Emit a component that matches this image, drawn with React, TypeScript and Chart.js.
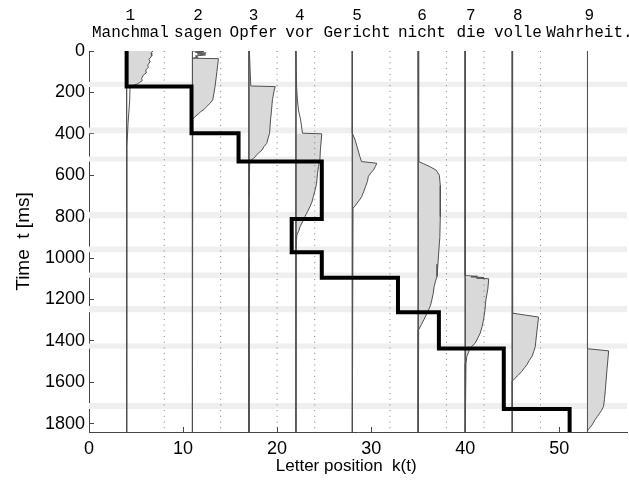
import React, { useEffect, useRef } from 'react';
import { Chart, registerables } from 'chart.js';

Chart.register(...registerables);

const X_MAX = 57.2;
const T_MAX = 1840;

const wordNumbers = ['1', '2', '3', '4', '5', '6', '7', '8', '9'];
const words = ['Manchmal', 'sagen', 'Opfer', 'vor', 'Gericht', 'nicht', 'die', 'volle', 'Wahrheit.'];
const wordLabelPos = [4.4, 11.6, 17.5, 22.4, 28.5, 35.4, 40.6, 45.6, 53.2];

const fixationLines = [4, 11, 17, 22, 28, 35, 40, 45, 53];
const wordEndLines = [8, 14, 20, 24, 32, 38, 42, 48];

const xTicks = [0, 10, 20, 30, 40, 50];
const yTicks = [0, 200, 400, 600, 800, 1000, 1200, 1400, 1600, 1800];

// staircase k(t)
const stepX = [4, 10.9, 15.9, 24.75, 21.55, 24.75, 32.85, 37.2, 44.1, 51.1];
const stepT = [172, 397, 534, 811, 972, 1095, 1262, 1437, 1729];

// light grey horizontal bands (ms)
const bandTop = [148, 370, 510, 778, 944, 1070, 1232, 1412, 1700];
const bandBottom = [174, 397, 534, 808, 972, 1096, 1262, 1438, 1729];

// per-word curves: [t (ms), x (letter position)]
const curve1 = [[0, 6.78], [11, 6.6], [24, 6.67], [40, 6.38], [52, 6.49], [68, 6.24], [79, 6.31], [92, 6.03], [105, 6.1], [116, 5.78], [132, 5.6], [143, 5.67], [153, 5.35], [159, 5.14], [172, 4.36], [236, 4.33], [350, 4.15], [470, 4.02], [1840, 4.0]];
const curve2 = [[0, 11.0], [3, 12.2], [6, 11.3], [10, 12.45], [14, 11.5], [19, 12.4], [24, 11.3], [30, 11.6], [35, 11.05], [37, 13.76], [100, 13.6], [172, 13.4], [236, 13.16], [252, 12.87], [269, 12.5], [281, 12.25], [293, 11.88], [305, 11.6], [317, 11.28], [330, 11.03], [1840, 11.0]];
const curve3 = [[0, 17.05], [169, 17.2], [172, 19.8], [188, 19.7], [236, 19.5], [290, 19.4], [333, 19.3], [397, 19.2], [420, 19.05], [446, 18.9], [462, 18.6], [478, 18.4], [490, 18.1], [502, 17.8], [510, 17.7], [518, 17.5], [529, 17.2], [545, 17.08], [700, 17.03], [1000, 17.0], [1840, 17.0]];
const curve4 = [[0, 21.98], [172, 22.07], [236, 22.16], [285, 22.27], [333, 22.5], [397, 22.7], [400, 24.75], [478, 24.6], [526, 24.55], [558, 24.4], [590, 24.3], [638, 24.2], [670, 24.05], [703, 23.85], [730, 23.7], [751, 23.5], [775, 23.25], [800, 22.95], [825, 22.7], [848, 22.45], [870, 22.3], [888, 22.1], [950, 22.02], [1840, 22.0]];
const curve5 = [[0, 28.0], [397, 28.0], [430, 28.3], [462, 28.5], [510, 28.8], [534, 28.97], [542, 30.6], [558, 30.45], [574, 30.25], [590, 29.95], [606, 29.7], [630, 29.6], [655, 29.4], [680, 29.2], [703, 29.0], [720, 28.75], [735, 28.5], [748, 28.3], [759, 28.07], [1840, 28.0]];
const curve6 = [[0, 35.0], [534, 35.05], [545, 35.6], [560, 36.3], [575, 36.9], [600, 37.25], [650, 37.35], [700, 37.35], [800, 37.35], [900, 37.3], [960, 37.2], [1030, 37.1], [1089, 37.0], [1110, 36.85], [1137, 36.7], [1170, 36.6], [1202, 36.45], [1230, 36.3], [1250, 36.1], [1275, 35.85], [1298, 35.6], [1320, 35.35], [1346, 35.05], [1840, 35.0]];
const curve7 = [[0, 40.0], [1085, 40.0], [1088, 41.3], [1091, 40.6], [1094, 42.0], [1097, 41.2], [1100, 42.5], [1150, 42.4], [1202, 42.2], [1250, 42.1], [1298, 41.95], [1330, 41.8], [1362, 41.6], [1390, 41.3], [1411, 41.06], [1435, 40.5], [1455, 40.35], [1475, 40.17], [1510, 40.08], [1556, 40.0], [1840, 40.0]];
const curve8 = [[0, 45.0], [1000, 45.0], [1266, 45.07], [1285, 47.8], [1362, 47.6], [1427, 47.45], [1450, 47.3], [1475, 47.1], [1495, 46.8], [1515, 46.56], [1530, 46.3], [1548, 46.0], [1565, 45.65], [1580, 45.3], [1596, 44.97], [1840, 45.0]];
const curve9 = [[0, 53.0], [1438, 53.0], [1448, 55.25], [1540, 55.07], [1636, 54.9], [1684, 54.8], [1717, 54.7], [1735, 54.5], [1749, 54.3], [1765, 54.05], [1781, 53.8], [1805, 53.5], [1820, 53.25], [1829, 53.05], [1840, 53.0]];

const curves = [curve1, curve2, curve3, curve4, curve5, curve6, curve7, curve8, curve9];
const fillFrom = [0, 36, 170, 398, 397, 534, 1094, 1266, 1438];
const fillTo = [172, 330, 529, 888, 759, 1346, 1556, 1596, 1840];

const SANS = "'Liberation Sans', Arial, Helvetica, sans-serif";
const MONO = "'Liberation Mono', 'Courier New', monospace";

function buildDatasets() {
  const ds: any[] = [];
  const common = { showLine: true, pointRadius: 0, pointHoverRadius: 0, tension: 0 };

  bandTop.forEach((t0, i) => {
    const t1 = bandBottom[i];
    ds.push({
      ...common,
      data: [{ x: 0, y: t0 }, { x: X_MAX, y: t0 }, { x: X_MAX, y: t1 }, { x: 0, y: t1 }],
      fill: 'shape',
      backgroundColor: '#efefef',
      borderColor: 'rgba(0,0,0,0)',
      borderWidth: 0,
      order: 6,
    });
  });

  curves.forEach((c, i) => {
    const base = fixationLines[i];
    const pts: any[] = [{ x: base, y: fillFrom[i] }];
    c.forEach(([t, x]) => {
      if (t >= fillFrom[i] && t <= fillTo[i]) pts.push({ x, y: t });
    });
    pts.push({ x: base, y: fillTo[i] });
    ds.push({
      ...common,
      data: pts,
      fill: 'shape',
      backgroundColor: '#d9d9d9',
      borderColor: 'rgba(0,0,0,0)',
      borderWidth: 0,
      order: 5,
    });
  });

  wordEndLines.forEach((v) => {
    ds.push({
      ...common,
      data: [{ x: v, y: 0 }, { x: v, y: T_MAX }],
      borderColor: '#7a7a7a',
      borderWidth: 1,
      borderDash: [1, 4.7],
      fill: false,
      order: 4,
    });
  });

  fixationLines.forEach((v) => {
    ds.push({
      ...common,
      data: [{ x: v, y: 0 }, { x: v, y: T_MAX }],
      borderColor: '#555555',
      borderWidth: 1,
      fill: false,
      order: 3,
    });
  });

  curves.forEach((c) => {
    ds.push({
      ...common,
      data: c.map(([t, x]) => ({ x, y: t })),
      borderColor: '#505050',
      borderWidth: 1,
      fill: false,
      order: 2,
    });
  });

  const stair: any[] = [{ x: stepX[0], y: 0 }];
  stepT.forEach((t, i) => {
    stair.push({ x: stepX[i], y: t });
    stair.push({ x: stepX[i + 1], y: t });
  });
  stair.push({ x: stepX[stepX.length - 1], y: T_MAX });
  ds.push({
    ...common,
    data: stair,
    borderColor: '#000000',
    borderWidth: 4,
    borderJoinStyle: 'miter',
    borderCapStyle: 'butt',
    fill: false,
    order: 1,
  });

  return ds;
}

export default function App() {
  const ref = useRef<HTMLCanvasElement>(null);

  useEffect(() => {
    if (!ref.current) return;
    const chart = new Chart(ref.current, {
      type: 'scatter',
      data: { datasets: buildDatasets() },
      options: {
        responsive: false,
        animation: false,
        events: [],
        devicePixelRatio: 1,
        layout: { padding: { left: 0, right: 2, top: 0, bottom: 0 } },
        plugins: { legend: { display: false }, tooltip: { enabled: false } },
        scales: {
          x: {
            type: 'linear',
            position: 'bottom',
            min: 0,
            max: X_MAX,
            afterBuildTicks: (s: any) => {
              s.ticks = xTicks.map((v) => ({ value: v }));
            },
            ticks: {
              autoSkip: false,
              maxRotation: 0,
              color: '#000',
              font: { family: SANS, size: 18 },
              padding: 11,
              callback: (v: any) => String(v),
            },
            grid: { display: true, drawOnChartArea: false, drawTicks: true, tickLength: -5, color: '#444', lineWidth: 1 },
            border: { display: true, color: '#444', width: 1 },
            title: {
              display: true,
              text: 'Letter position  k(t)     ',
              color: '#000',
              font: { family: SANS, size: 17 },
              padding: { top: 0, bottom: 8 },
            },
            afterFit: (s: any) => {
              s.height = 53;
              s.paddingLeft = 0;
              s.paddingRight = 0;
            },
          },
          xTop: {
            type: 'linear',
            position: 'top',
            min: 0,
            max: X_MAX,
            afterBuildTicks: (s: any) => {
              s.ticks = wordLabelPos.map((v) => ({ value: v }));
            },
            ticks: {
              autoSkip: false,
              maxRotation: 0,
              color: '#000',
              font: { family: MONO, size: 16, lineHeight: 1.1 },
              padding: 9,
              callback: (_v: any, i: number) => [wordNumbers[i], words[i]],
            },
            grid: { display: false, drawTicks: false },
            border: { display: false },
            afterFit: (s: any) => {
              s.height = 51;
              s.paddingLeft = 0;
              s.paddingRight = 0;
            },
          },
          y: {
            type: 'linear',
            position: 'left',
            reverse: true,
            min: 0,
            max: T_MAX,
            afterBuildTicks: (s: any) => {
              s.ticks = yTicks.map((v) => ({ value: v }));
            },
            ticks: {
              autoSkip: false,
              color: '#000',
              font: { family: SANS, size: 18 },
              padding: 9,
              callback: (v: any) => String(v),
            },
            grid: { display: true, drawOnChartArea: false, drawTicks: true, tickLength: -5, color: '#444', lineWidth: 1 },
            border: { display: true, color: '#444', width: 1 },
            title: {
              display: true,
              text: 'Time  t [ms]',
              color: '#000',
              font: { family: SANS, size: 19 },
              padding: { top: 12, bottom: 0 },
            },
            afterFit: (s: any) => {
              s.width = 89;
              s.paddingTop = 0;
              s.paddingBottom = 0;
            },
          },
        },
      } as any,
    });
    return () => chart.destroy();
  }, []);

  return (
    <div style={{ position: 'absolute', left: 0, top: 0, width: 629, height: 485, background: '#fff' }}>
      <canvas ref={ref} width={629} height={485} style={{ display: 'block', width: 629, height: 485 }} />
    </div>
  );
}
